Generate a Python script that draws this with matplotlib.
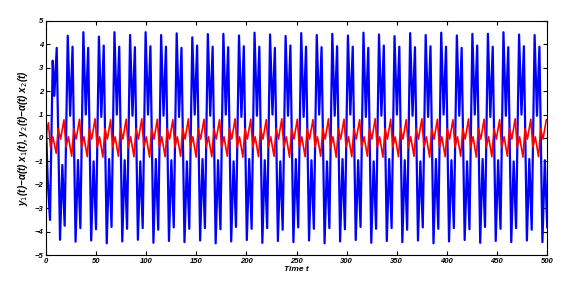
import matplotlib
matplotlib.use('Agg')
import matplotlib.pyplot as plt
import numpy as np

plt.rcParams['font.family'] = ['Liberation Sans', 'DejaVu Sans']

# blue: start transient (extrema)
b_t0 = [0.0, 1.7, 4.0, 6.7, 8.3, 10.7, 14.0, 16.3, 18.6]
b_y0 = [0.5, -1.8, -3.5, 3.3, 1.8, 3.85, -4.35, -1.15, -3.75]

# blue: time of the high peak in each cycle
b_start = [21.7, 37.3, 52.8, 68.3, 83.9, 99.4, 114.9, 130.4, 146.0, 161.5,
           177.0, 192.6, 208.1, 223.6, 239.1, 254.7, 270.2, 285.7, 301.3, 316.8,
           332.3, 347.8, 363.4, 378.9, 394.4, 410.0, 425.5, 441.0, 456.5, 472.1,
           487.6]
# offsets inside a cycle: high peak, dip, low peak, deep trough, bump, shallow trough
b_off = [0.0, 2.4, 4.8, 7.8, 10.2, 12.6]
b_hi = [4.37, 4.52, 4.33, 4.52, 4.40, 4.52, 4.40, 4.47, 4.30, 4.44,
        4.45, 4.38, 4.50, 4.42, 4.36, 4.48, 4.40, 4.45, 4.38, 4.50,
        4.42, 4.35, 4.48, 4.40, 4.50, 4.38, 4.45, 4.45, 4.52, 4.42,
        4.40]
b_dip = [0.95, 1.0, 0.9, 1.0, 0.95, 1.0, 0.95, 0.9, 1.0, 0.95,
         1.0, 0.9, 0.95, 1.0, 0.95, 0.9, 1.0, 0.95, 1.0, 0.9,
         0.95, 1.0, 0.95, 0.9, 1.0, 0.95, 1.0, 0.9, 0.95, 1.0,
         0.95]
b_lo = [3.9, 3.85, 3.95, 3.9, 3.88, 3.92, 3.9, 3.85, 3.95, 3.9,
        3.88, 3.92, 3.9, 3.85, 3.95, 3.9, 3.88, 3.92, 3.9, 3.85,
        3.95, 3.9, 3.88, 3.92, 3.9, 3.85, 3.95, 3.9, 3.88, 3.92,
        3.9]
b_deep = [-4.43, -4.38, -4.5, -4.42, -4.35, -4.48, -4.4, -4.45, -4.38, -4.5,
          -4.42, -4.36, -4.48, -4.4, -4.45, -4.38, -4.5, -4.42, -4.36, -4.48,
          -4.4, -4.45, -4.38, -4.5, -4.42, -4.36, -4.48, -4.4, -4.45, -4.38,
          -4.45]
b_bump = [-0.94, -1.0, -0.9, -0.95, -1.0, -0.9, -0.95, -1.0, -0.9, -0.95,
          -1.0, -0.9, -0.95, -1.0, -0.9, -0.95, -1.0, -0.9, -0.95, -1.0,
          -0.9, -0.95, -1.0, -0.9, -0.95, -1.0, -0.9, -0.95, -1.0, -0.9,
          -0.95]
b_sh = [-3.85, -3.9, -3.8, -3.88, -3.85, -3.92, -3.82, -3.88, -3.85, -3.9,
        -3.8, -3.88, -3.85, -3.92, -3.82, -3.88, -3.85, -3.9, -3.8, -3.88,
        -3.85, -3.92, -3.82, -3.88, -3.85, -3.9, -3.8, -3.88, -3.85, -3.92,
        -3.82]

# red: time of the big peak in each cycle
r_start = [2.4, 17.9, 33.4, 49.0, 64.5, 80.0, 95.6, 111.1, 126.6, 142.1,
           157.7, 173.2, 188.7, 204.3, 219.8, 235.3, 250.8, 266.4, 281.9, 297.4,
           313.0, 328.5, 344.0, 359.5, 375.1, 390.6, 406.1, 421.7, 437.2, 452.7,
           468.2, 483.8, 499.3]
# offsets inside a cycle: big peak, small trough, bump, big trough, small peak, dip
r_off = [0.0, 2.05, 4.45, 7.75, 9.8, 12.2]
r_shape = [0.8, -0.4, 0.05, -0.8, 0.4, -0.05]
r_peak = [0.65, 0.78, 0.8, 0.82, 0.78, 0.8, 0.82, 0.8, 0.78, 0.82,
          0.8, 0.78, 0.82, 0.8, 0.78, 0.82, 0.8, 0.78, 0.82, 0.8,
          0.78, 0.82, 0.8, 0.78, 0.82, 0.8, 0.78, 0.82, 0.8, 0.78,
          0.82, 0.8, 0.78]

bt = list(b_t0)
by = list(b_y0)
for k, s in enumerate(b_start):
    vals = [b_hi[k], b_dip[k], b_lo[k], b_deep[k], b_bump[k], b_sh[k]]
    for o, v in zip(b_off, vals):
        bt.append(s + o)
        by.append(v)

rt = [0.0]
ry = [0.1]
for k, s in enumerate(r_start):
    for o, v in zip(r_off, r_shape):
        if s + o > 500.5:
            break
        rt.append(s + o)
        if o == 0.0:
            ry.append(r_peak[k])
        elif o == 7.75:
            ry.append(-r_peak[k])
        else:
            ry.append(v)

fig = plt.figure(figsize=(5.86, 2.82), dpi=100)
ax = fig.add_axes([0.0785, 0.0957, 0.855, 0.830])
ax.plot(bt, by, color=(0, 0, 1), lw=1.6)
ax.plot(rt, ry, color=(1, 0, 0), lw=1.2)

ax.set_xlim(0, 500)
ax.set_ylim(-5, 5)
ax.set_xticks(np.arange(0, 501, 50))
ax.set_yticks(np.arange(-5, 6, 1))
ax.tick_params(direction='in', length=3, width=0.8, labelsize=5.5, top=True, right=True, pad=2)
for lab in ax.get_xticklabels() + ax.get_yticklabels():
    lab.set_fontweight('bold')
    lab.set_fontstyle('italic')
for sp in ax.spines.values():
    sp.set_linewidth(0.8)

ax.set_xlabel('Time t', fontsize=6, fontweight='bold', fontstyle='italic', labelpad=1)
ax.set_ylabel('y$_1$(t)\u2212\u03b1(t) x$_1$(t), y$_2$(t)\u2212\u03b1(t) x$_2$(t)',
              fontsize=7, fontweight='bold', fontstyle='italic', labelpad=3)

fig.savefig('out.png', dpi=100)
